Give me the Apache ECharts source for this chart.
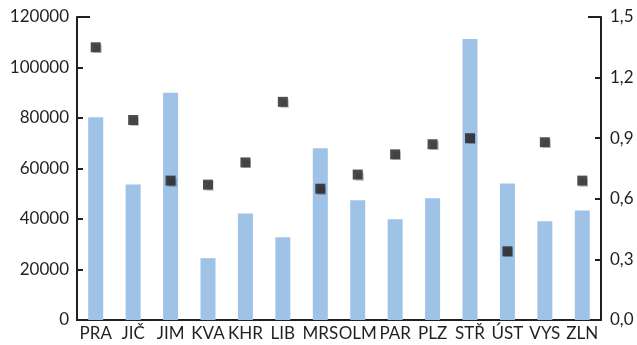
<!DOCTYPE html>
<html>
<head>
<meta charset="utf-8">
<script src="https://cdn.jsdelivr.net/npm/echarts@6/dist/echarts.min.js"></script>
<style>html,body{margin:0;padding:0;background:#fff}#c{width:637px;height:345px}</style>
</head>
<body>
<div id="c"></div>
<script>
const categories = ['PRA','JIČ','JIM','KVA','KHR','LIB','MRS','OLM','PAR','PLZ','STŘ','ÚST','VYS','ZLN'];
const barValues = [80300, 53700, 90000, 24500, 42200, 32800, 68000, 47400, 39900, 48200, 111300, 54100, 39100, 43400];
const ratioValues = [1.35, 0.99, 0.69, 0.67, 0.78, 1.08, 0.65, 0.72, 0.82, 0.87, 0.90, 0.34, 0.88, 0.69];
const leftTicks = [0, 120000, 20000];
const rightTicks = [0, 1.5, 0.3];

const txt = '#231f20';
const font = 'Lato';
const chart = echarts.init(document.getElementById('c'));
chart.setOption({
  animation: false,
  grid: { left: 77, right: 36, top: 17, bottom: 25 },
  xAxis: {
    type: 'category', data: categories,
    axisLine: { lineStyle: { color: txt, width: 2 } },
    axisTick: { inside: true, length: 5, lineStyle: { color: txt, width: 2 } },
    axisLabel: { color: txt, fontFamily: font, fontSize: 17, margin: 5, interval: 0 }
  },
  yAxis: [{
    type: 'value', min: leftTicks[0], max: leftTicks[1], interval: leftTicks[2],
    axisLine: { show: true, lineStyle: { color: txt, width: 2 } },
    axisTick: { show: true, inside: true, length: 6, lineStyle: { color: txt, width: 2 } },
    splitLine: { show: false },
    axisLabel: { color: txt, fontFamily: font, fontSize: 17, margin: 8, formatter: v => String(v) }
  }, {
    type: 'value', min: rightTicks[0], max: rightTicks[1], interval: rightTicks[2],
    position: 'right',
    axisLine: { show: true, lineStyle: { color: txt, width: 2 } },
    axisTick: { show: true, inside: true, length: 6, lineStyle: { color: txt, width: 2 } },
    splitLine: { show: false },
    axisLabel: { color: txt, fontFamily: font, fontSize: 17, margin: 9,
      formatter: v => v.toFixed(1).replace('.', ',') }
  }],
  series: [{
    type: 'bar', data: barValues, barWidth: 15, yAxisIndex: 0,
    itemStyle: { color: '#9fc3e7' }
  }, {
    type: 'scatter', data: ratioValues, yAxisIndex: 1,
    symbol: 'rect', symbolSize: 10,
    itemStyle: { color: txt, shadowColor: 'rgba(0,0,0,0.25)', shadowBlur: 1, shadowOffsetX: 1, shadowOffsetY: 1 }
  }]
});
// longer top ticks as in the reference
const pL = chart.convertToPixel({ yAxisIndex: 0 }, leftTicks[1]);
const pR = chart.convertToPixel({ yAxisIndex: 1 }, rightTicks[1]);
chart.setOption({
  graphic: [
    { type: 'line', shape: { x1: 77, y1: pL, x2: 90, y2: pL }, style: { stroke: txt, lineWidth: 2 } },
    { type: 'line', shape: { x1: 588, y1: pR, x2: 601, y2: pR }, style: { stroke: txt, lineWidth: 2 } }
  ]
});
</script>
</body>
</html>
